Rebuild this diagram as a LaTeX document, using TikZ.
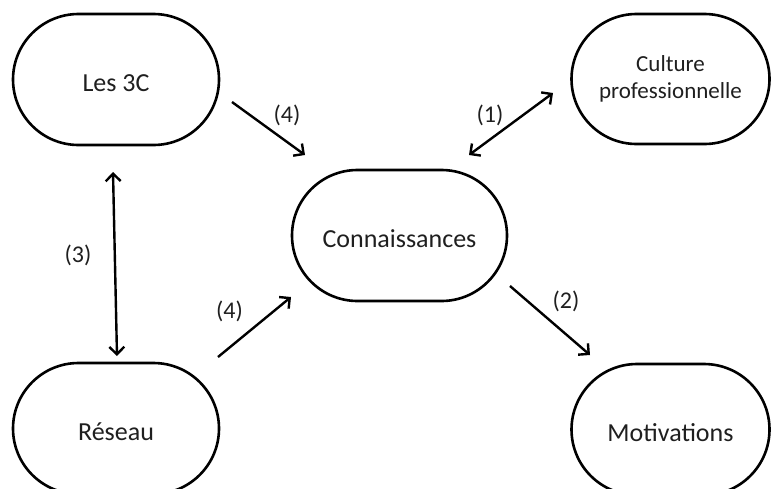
\documentclass[tikz,border=0pt]{standalone}
\usepackage{fontspec}
\setmainfont{Carlito}
\usetikzlibrary{arrows.meta,shapes.misc}
\begin{document}
\begin{tikzpicture}[x=1pt,y=-1pt,
  box/.style={rounded rectangle, draw=black, line width=2.6pt, inner sep=0pt,
    font=\fontsize{26}{31}\selectfont, text=black!88, text height=23.5pt, text depth=0pt},
  boxml/.style={rounded rectangle, draw=black, line width=2.6pt, inner sep=0pt,
    font=\fontsize{23}{27}\selectfont, text=black!88, align=center},
  lab/.style={font=\fontsize{24}{28}\selectfont, text=black!88, inner sep=0pt},
  tip/.style={Straight Barb[length=7.5pt,width=15pt,line width=2.4pt]},
  arr/.style={line width=2.4pt, -{Straight Barb[length=7.5pt,width=15pt,line width=2.4pt]}},
  darr/.style={line width=2.4pt, {Straight Barb[length=7.5pt,width=15pt,line width=2.4pt]}-{Straight Barb[length=7.5pt,width=15pt,line width=2.4pt]}}
]
\useasboundingbox (0,0) rectangle (771,488);
\clip (0,0) rectangle (771,488);

\node[box, minimum width=206pt, minimum height=131pt] (l3c) at (116,79.5) {Les 3C};
\node[boxml, minimum width=198pt, minimum height=130pt] (cult) at (670.5,79) {Culture\\professionnelle};
\node[box, minimum width=215pt, minimum height=131pt] (conn) at (399.5,235.5) {Connaissances};
\node[box, minimum width=206pt, minimum height=131pt] (res) at (116,428.5) {Réseau};
\node[box, minimum width=198pt, minimum height=131pt] (motiv) at (670.5,429.5) {Motivations};

\coordinate (a4s) at (232,102);
\coordinate (a4e) at (305,155);
\coordinate (a1s) at (469,155);
\coordinate (a1e) at (553,93);
\coordinate (a3s) at (113,172);
\coordinate (a3e) at (117,356);
\coordinate (b4s) at (218,357);
\coordinate (b4e) at (291,297);
\coordinate (a2s) at (510,286);
\coordinate (a2e) at (590,355);

\draw[arr] (a4s) -- (a4e);
\draw[darr] (a1s) -- (a1e);
\draw[darr] (a3s) -- (a3e);
\draw[arr] (b4s) -- (b4e);
\draw[arr] (a2s) -- (a2e);

\node[lab] (l4a) at (287,115) {(4)};
\node[lab] (l1) at (490,115) {(1)};
\node[lab] (l3) at (78,255) {(3)};
\node[lab] (l4b) at (229.5,311.5) {(4)};
\node[lab] (l2) at (566,301.5) {(2)};
\end{tikzpicture}
\end{document}
